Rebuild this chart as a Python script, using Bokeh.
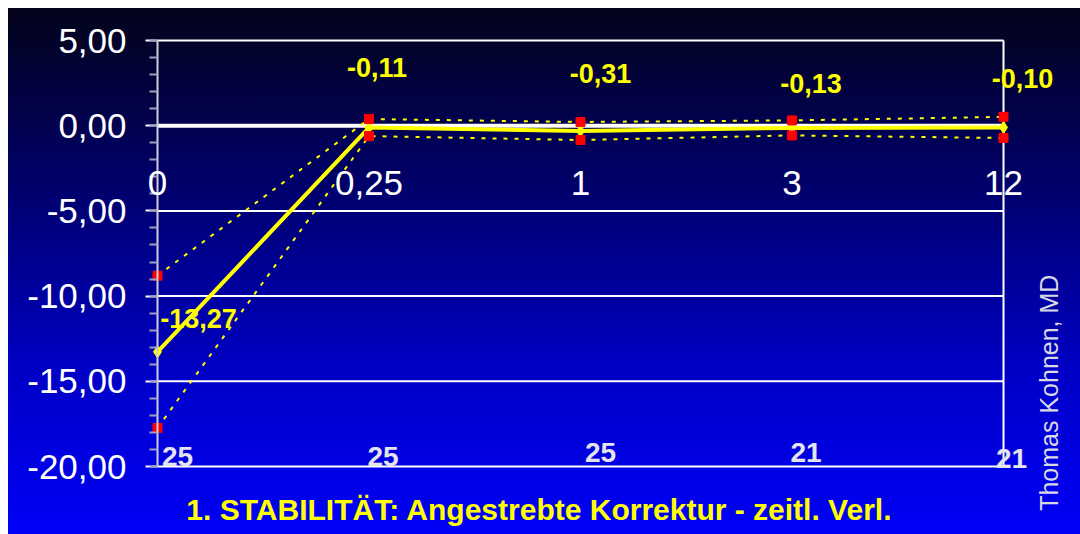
from bokeh.plotting import figure
from bokeh.models import ColumnDataSource, Range1d, FixedTicker, LabelSet, Label
from bokeh.core.properties import value
from bokeh.embed import file_html
from bokeh.resources import INLINE

# Follow-up time points (months) and cohort sizes
time_labels = ["0", "0,25", "1", "3", "12"]
n_eyes = [25, 25, 25, 21, 21]

# Mean deviation from intended correction (D) with upper / lower spread
mean_dev = [-13.27, -0.11, -0.31, -0.13, -0.10]
upper_dev = [-8.80, 0.39, 0.22, 0.31, 0.52]
lower_dev = [-17.74, -0.61, -0.84, -0.57, -0.72]

y_ticks = [5, 0, -5, -10, -15, -20]
y_tick_labels = ["5,00", "0,00", "-5,00", "-10,00", "-15,00", "-20,00"]

# Label placement (screen pixel offsets)
value_dx = [41, 8, 20, 19, 19]
value_dy = [33, 60, 57, 44, 49]
count_dx = [20, 14, 20, 14, 8]
count_dy = [10, 10, 14, 14, 8]

FONT = value("Liberation Sans")
YELLOW = "#ffff00"

xs = list(range(len(time_labels)))
x_last = len(time_labels) - 1
y_top, y_bot = max(y_ticks), min(y_ticks)

# The frame spans the whole canvas; the chart box sits inside it.
p = figure(width=1072, height=526, output_backend="svg", toolbar_location=None,
           x_range=Range1d(-0.7045, 4.364), y_range=Range1d(-23.99, 6.878),
           min_border=0)
p.styles = {
    "margin-left": "8px", "margin-top": "8px",
    "background": "linear-gradient(to bottom, #03031a 0%, #00006e 35%, #0000c8 70%, #0000f8 100%)",
}
p.background_fill_color = None
p.border_fill_color = None
p.outline_line_color = None
p.xaxis.visible = False
p.grid.visible = False

# y axis pinned at the first time point, comma decimals
p.yaxis.fixed_location = 0
p.yaxis.bounds = (y_bot, y_top)
p.yaxis.ticker = FixedTicker(ticks=y_ticks, minor_ticks=list(range(y_bot, y_top + 1)))
p.yaxis.major_label_overrides = {t: s for t, s in zip(y_ticks, y_tick_labels)}
p.yaxis.major_label_text_font = "Liberation Sans"
p.yaxis.major_label_text_font_size = "35px"
p.yaxis.major_label_text_color = "white"
p.yaxis.major_label_standoff = 19
p.yaxis.axis_line_color = "#d0d0d8"
p.yaxis.axis_line_width = 2
p.yaxis.major_tick_line_color = "white"
p.yaxis.major_tick_line_width = 2
p.yaxis.major_tick_out = 12
p.yaxis.major_tick_in = 0
p.yaxis.minor_tick_line_color = "#a0a0c0"
p.yaxis.minor_tick_line_width = 2
p.yaxis.minor_tick_out = 8
p.yaxis.minor_tick_in = 0

# horizontal gridlines and chart box
grid_levels = [t for t in y_ticks if t != 0]
p.segment(x0=0, x1=x_last, y0=grid_levels, y1=grid_levels, line_color="white", line_width=2)
p.segment(x0=x_last, x1=x_last, y0=y_bot, y1=y_top, line_color="white", line_width=2)
p.segment(x0=0, x1=x_last, y0=0, y1=0, line_color="white", line_width=4)

src = ColumnDataSource(dict(
    x=xs, mean=mean_dev, up=upper_dev, lo=lower_dev, n=[str(v) for v in n_eyes],
    zero=[0] * len(xs), bottom=[y_bot] * len(xs), cat=time_labels,
    vlab=[f"{v:.2f}".replace(".", ",") for v in mean_dev],
    vdx=value_dx, vdy=value_dy, cdx=count_dx, cdy=count_dy,
))

# spread lines and markers
for col in ("up", "lo"):
    p.line("x", col, source=src, line_color=YELLOW, line_width=2, line_dash="4 7")
p.line("x", "mean", source=src, line_color=YELLOW, line_width=4)
p.scatter("x", "mean", source=src, marker="diamond", size=12, fill_color=YELLOW,
          line_color=YELLOW)
for col in ("up", "lo"):
    p.scatter("x", col, source=src, marker="square", size=9, fill_color="#ff0000",
              line_color="#ff0000")

# time point labels just below the zero line
p.add_layout(LabelSet(x="x", y="zero", text="cat", source=src, y_offset=-57,
                      text_align="center", text_baseline="middle", text_font=FONT,
                      text_font_size="35px", text_color="white"))

# mean value labels
p.add_layout(LabelSet(x="x", y="mean", text="vlab", source=src,
                      x_offset="vdx", y_offset="vdy",
                      text_align="center", text_baseline="middle", text_font=FONT,
                      text_font_size="27px", text_font_style="bold", text_color=YELLOW))

# number of eyes per time point
p.add_layout(LabelSet(x="x", y="bottom", text="n", source=src,
                      x_offset="cdx", y_offset="cdy",
                      text_align="center", text_baseline="middle", text_font=FONT,
                      text_font_size="28px", text_font_style="bold", text_color="#e4e4ec"))

p.add_layout(Label(x=1.806, y=-22.55, text="1. STABILITÄT: Angestrebte Korrektur - zeitl. Verl.",
                   text_align="center", text_baseline="middle", text_font="Liberation Sans",
                   text_font_size="30px", text_font_style="bold", text_color=YELLOW))

p.add_layout(Label(x=4.217, y=-15.67, text="Thomas Kohnen, MD", angle=1.5708,
                   text_align="center", text_baseline="middle", text_font="Liberation Sans",
                   text_font_size="25px", text_color="#d8d8e4"))

open("out.html", "w").write(file_html(p, INLINE))
